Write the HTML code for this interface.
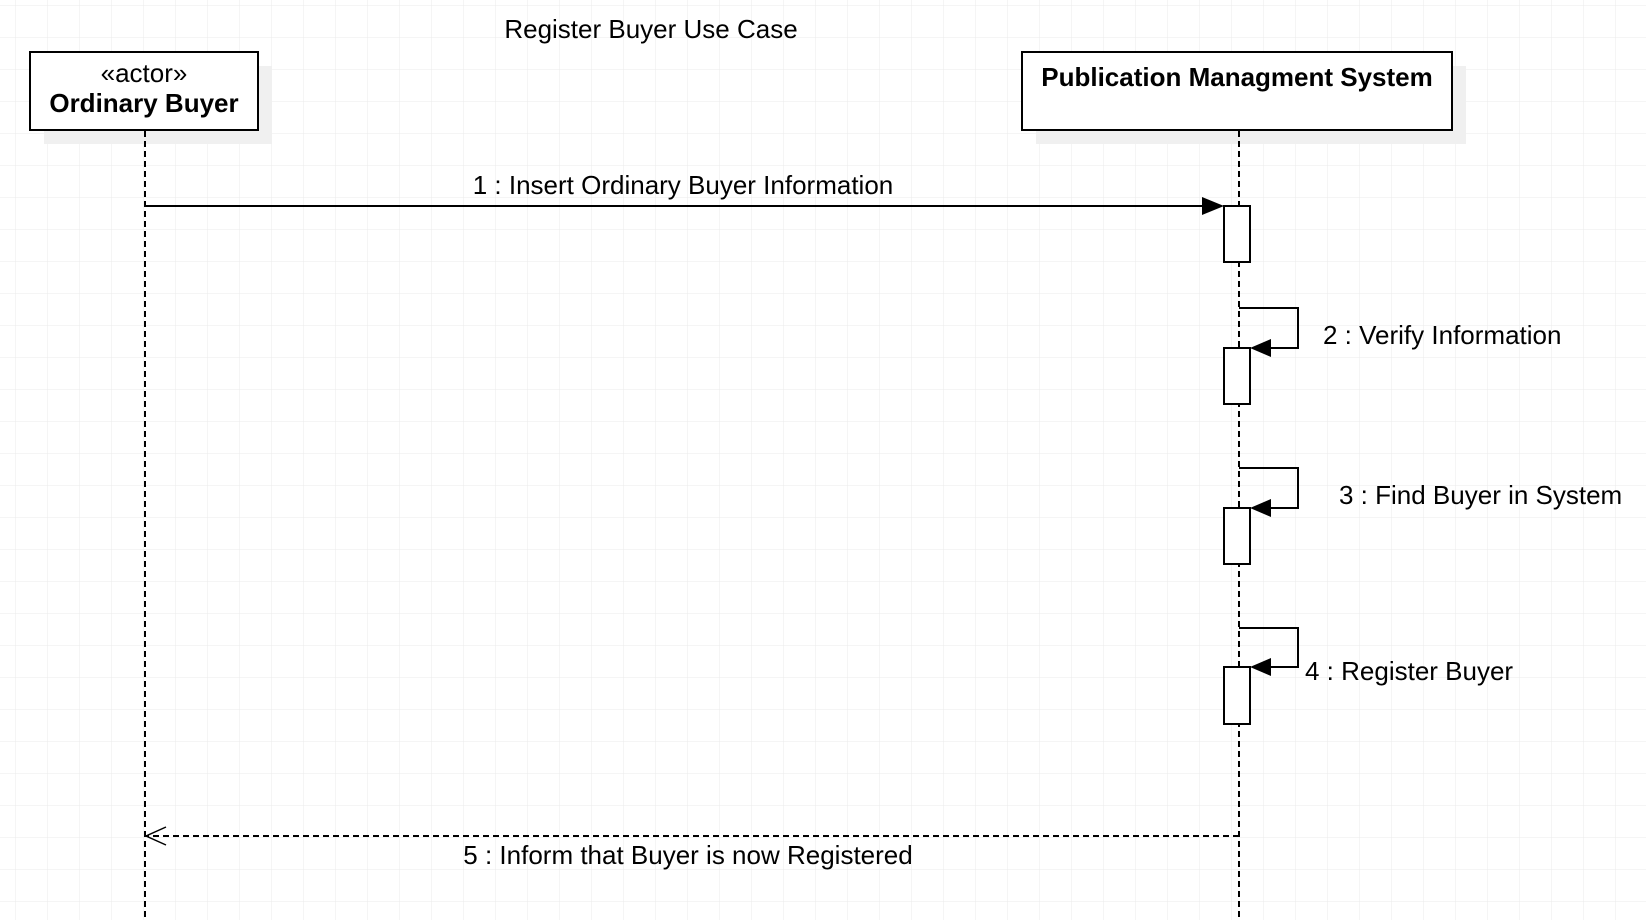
<!DOCTYPE html>
<html><head><meta charset="utf-8"><style>
html,body{margin:0;padding:0;background:#fff;}
svg{display:block;}
text{font-family:"Liberation Sans",Arial,sans-serif;fill:#000;}
</style></head><body>
<svg width="1646" height="920" viewBox="0 0 1646 920" xmlns="http://www.w3.org/2000/svg">
<defs>
<pattern id="g" x="15" y="5" width="32" height="32" patternUnits="userSpaceOnUse">
<path d="M0 0V32M0 0H32" stroke="#ebebeb" stroke-width="1" fill="none"/>
</pattern>
</defs>
<rect width="1646" height="920" fill="#fff"/>
<rect width="1646" height="920" fill="url(#g)"/>

<text x="651" y="38" font-size="26" text-anchor="middle">Register Buyer Use Case</text>

<rect x="44" y="66" width="228" height="78" fill="#f0f0f0"/>
<rect x="1036" y="66" width="430" height="78" fill="#f0f0f0"/>
<rect x="30" y="52" width="228" height="78" fill="#fff" stroke="#000" stroke-width="2"/>
<text x="144" y="82" font-size="26" text-anchor="middle">«actor»</text>
<text x="144" y="112" font-size="26" font-weight="bold" text-anchor="middle">Ordinary Buyer</text>
<rect x="1022" y="52" width="430" height="78" fill="#fff" stroke="#000" stroke-width="2"/>
<text x="1237" y="86" font-size="26" font-weight="bold" text-anchor="middle">Publication Managment System</text>

<line x1="145" y1="131" x2="145" y2="920" stroke="#000" stroke-width="2" stroke-dasharray="6,4"/>
<line x1="1239" y1="131" x2="1239" y2="920" stroke="#000" stroke-width="2" stroke-dasharray="6,4"/>

<line x1="145" y1="206" x2="1205" y2="206" stroke="#000" stroke-width="2"/>
<polygon points="1224,206 1202,197 1202,215" fill="#000"/>
<text x="683" y="194" font-size="26" text-anchor="middle">1 : Insert Ordinary Buyer Information</text>
<rect x="1224" y="206" width="26" height="56" fill="#fff" stroke="#000" stroke-width="2"/>

<polyline points="1239,308 1298,308 1298,348 1262,348" fill="none" stroke="#000" stroke-width="2"/>
<polygon points="1250,348 1271,339 1271,357" fill="#000"/>
<rect x="1224" y="348" width="26" height="56" fill="#fff" stroke="#000" stroke-width="2"/>
<text x="1323" y="344" font-size="26">2 : Verify Information</text>

<polyline points="1239,468 1298,468 1298,508 1262,508" fill="none" stroke="#000" stroke-width="2"/>
<polygon points="1250,508 1271,499 1271,517" fill="#000"/>
<rect x="1224" y="508" width="26" height="56" fill="#fff" stroke="#000" stroke-width="2"/>
<text x="1339" y="504" font-size="26">3 : Find Buyer in System</text>

<polyline points="1239,628 1298,628 1298,667 1262,667" fill="none" stroke="#000" stroke-width="2"/>
<polygon points="1250,667 1271,658 1271,676" fill="#000"/>
<rect x="1224" y="667" width="26" height="57" fill="#fff" stroke="#000" stroke-width="2"/>
<text x="1305" y="680" font-size="26">4 : Register Buyer</text>

<line x1="1239" y1="836" x2="146" y2="836" stroke="#000" stroke-width="2" stroke-dasharray="6,4"/>
<polyline points="166,827 146,836 166,845" fill="none" stroke="#000" stroke-width="1.5"/>
<text x="688" y="864" font-size="26" text-anchor="middle">5 : Inform that Buyer is now Registered</text>
</svg>
</body></html>
